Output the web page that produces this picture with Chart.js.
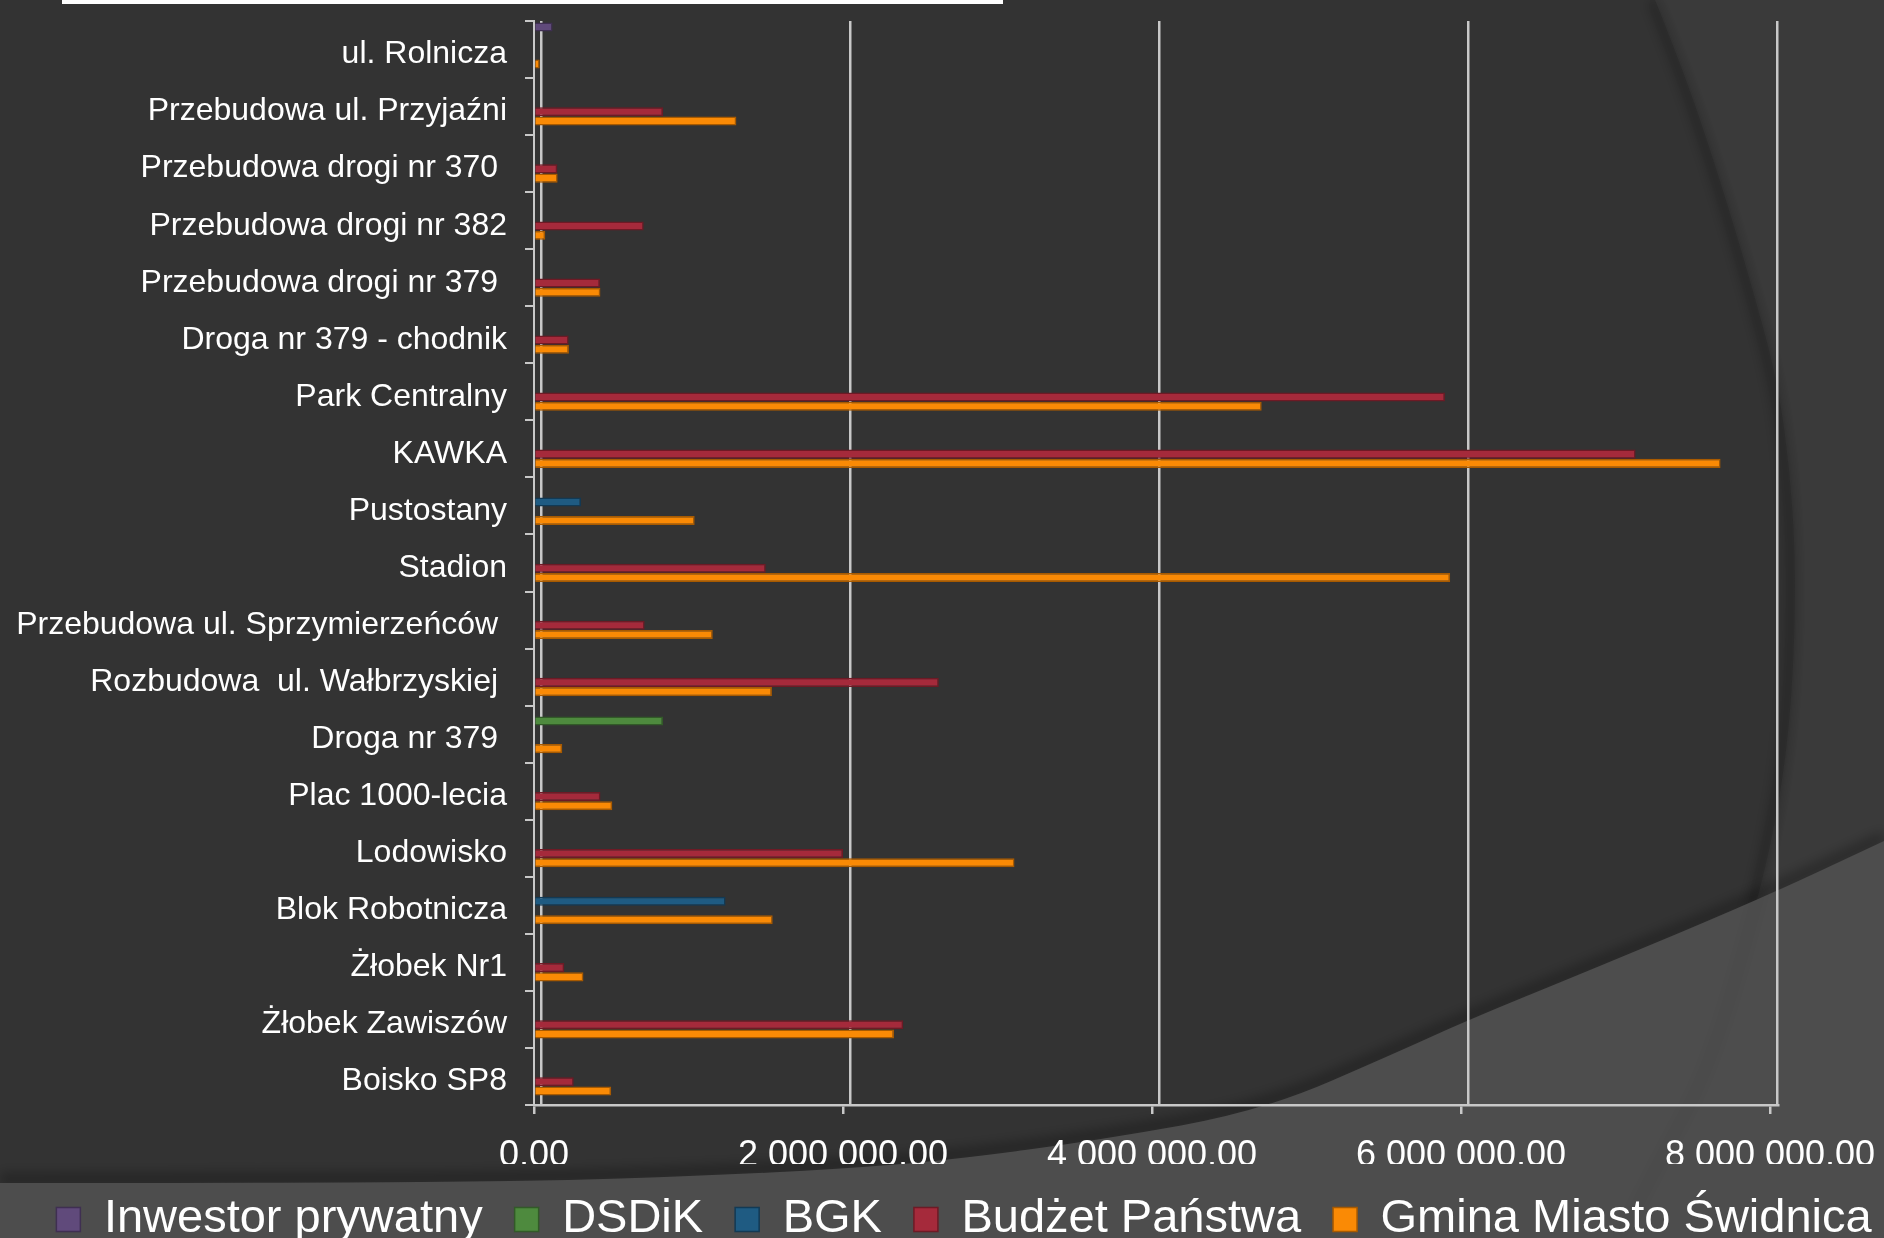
<!DOCTYPE html>
<html>
<head>
<meta charset="utf-8">
<script src="https://cdn.jsdelivr.net/npm/chart.js@4.4.1/dist/chart.umd.min.js"></script>
<style>
html,body{margin:0;padding:0;background:#333333;overflow:hidden;width:1884px;height:1238px;}
#bg{position:absolute;left:0;top:0;}
#wrap{position:absolute;left:0;top:0;width:1884px;height:1253px;}
#topbar{position:absolute;left:62px;top:0;width:941px;height:4px;background:#ffffff;}
</style>
</head>
<body>
<svg id="bg" width="1884" height="1238" viewBox="0 0 1884 1238" xmlns="http://www.w3.org/2000/svg">
  <defs>
    <filter id="soft" x="-10%" y="-10%" width="120%" height="120%"><feGaussianBlur stdDeviation="6"/></filter>
  </defs>
  <rect width="1884" height="1238" fill="#333333"/>
  <path id="rightRegion" fill="#3a3a3a"/>
  <path id="arcShadow" fill="none" stroke="rgba(0,0,0,0.22)" stroke-width="10" filter="url(#soft)"/>
  <path id="swooshShadow" fill="none" stroke="rgba(0,0,0,0.28)" stroke-width="12" filter="url(#soft)"/>
  <path id="swoosh" fill="#4d4d4d"/>
  <path id="arcLow" fill="none" stroke="rgba(0,0,0,0.08)" stroke-width="6" filter="url(#soft)"/>
</svg>
<div id="topbar"></div>
<div id="wrap"><canvas id="c" width="1884" height="1253"></canvas></div>
<script>
// ---- data ----
const categories = [
  'ul. Rolnicza',
  'Przebudowa ul. Przyjaźni',
  'Przebudowa drogi nr 370 ',
  'Przebudowa drogi nr 382',
  'Przebudowa drogi nr 379 ',
  'Droga nr 379 - chodnik',
  'Park Centralny',
  'KAWKA',
  'Pustostany',
  'Stadion',
  'Przebudowa ul. Sprzymierzeńców ',
  'Rozbudowa  ul. Wałbrzyskiej ',
  'Droga nr 379 ',
  'Plac 1000-lecia',
  'Lodowisko',
  'Blok Robotnicza',
  'Żłobek Nr1',
  'Żłobek Zawiszów',
  'Boisko SP8'
];
const seriesNames = ['Inwestor prywatny', 'DSDiK', 'BGK', 'Budżet Państwa', 'Gmina Miasto Świdnica'];
const inwestorPrywatny = [120000,0,0,0,0,0,0,0,0,0,0,0,0,0,0,0,0,0,0];
const dsdik            = [0,0,0,0,0,0,0,0,0,0,0,0,835000,0,0,0,0,0,0];
const bgk              = [0,0,0,0,0,0,0,0,304000,0,0,0,0,0,0,1240000,0,0,0];
const budzetPanstwa    = [0,835000,151000,710000,427000,224000,5896000,7130000,0,1500000,716000,2620000,0,430000,2000000,0,196000,2390000,257000];
const gminaMiasto      = [37000,1310000,153000,73000,430000,226000,4710000,7680000,1040000,5930000,1157000,1540000,183000,507000,3110000,1545000,320000,2330000,500000];
const xTickValues = [0, 2000000, 4000000, 6000000, 8000000];
const xTickLabels = ['0,00', '2 000 000,00', '4 000 000,00', '6 000 000,00', '8 000 000,00'];

// ---- background decoration ----
function smoothPath(pts) {
  let d = 'M' + pts[0][0] + ',' + pts[0][1];
  for (let i = 1; i < pts.length - 1; i++) {
    const mx = (pts[i][0] + pts[i+1][0]) / 2, my = (pts[i][1] + pts[i+1][1]) / 2;
    d += ' Q' + pts[i][0] + ',' + pts[i][1] + ' ' + mx + ',' + my;
  }
  const l = pts[pts.length - 1];
  d += ' L' + l[0] + ',' + l[1];
  return d;
}
const swooshPts = [[0,1183],[300,1183],[540,1181],[700,1176],[840,1169],[950,1160],[1100,1140],[1262,1111],[1400,1051],[1468,1020],[1600,966],[1758,900],[1884,841]];
const arcPts = [[1655,0],[1682,67],[1716,167],[1751,283],[1778,383],[1791,480],[1796,580],[1792,700],[1780,800],[1758,900],[1710,1067],[1660,1160],[1620,1238]];
const sw = smoothPath(swooshPts);
const ar = smoothPath(arcPts);
document.getElementById('swoosh').setAttribute('d', sw + ' L1884,1238 L0,1238 Z');
document.getElementById('swooshShadow').setAttribute('d', sw);
document.getElementById('swooshShadow').setAttribute('transform', 'translate(0,-4)');
document.getElementById('rightRegion').setAttribute('d', ar + ' L1884,1238 L1884,0 Z');
document.getElementById('arcShadow').setAttribute('d', ar);
document.getElementById('arcShadow').setAttribute('transform', 'translate(-4,0)');
document.getElementById('arcLow').setAttribute('d', ar);

// ---- chart ----
Chart.defaults.font.family = "'Liberation Sans', Arial, sans-serif";
const colors = ['#604a7b', '#4e8a3e', '#1f5b82', '#a52a3b', '#fa8a05'];
const borders = ['#3f2f52', '#325a28', '#123a55', '#6e1a25', '#a85a00'];
const values = [inwestorPrywatny, dsdik, bgk, budzetPanstwa, gminaMiasto];

const datasets = seriesNames.map((name, i) => ({
  label: name,
  data: values[i].map((v, j) => ({ x: v, y: j })),
  xAxisID: 'x',
  yAxisID: 'yBars',
  backgroundColor: colors[i],
  borderColor: borders[i],
  borderWidth: 1.5,
  categoryPercentage: 0.81,
  barPercentage: 0.98
}));

// pseudo-3D geometry: front axis (ticks, labels), back wall (grid lines), bars raised slightly
const frontMax = 8051780;
const wallMin = -45307, wallMax = 8006473;
const barShift = 0.07;
const categoryIndexTicks = categories.map((c, i) => ({ value: i }));

const legendShift = {
  id: 'legendShift',
  afterLayout(chart) {
    if (chart.legend) { chart.legend.left += 22; chart.legend.right += 22; }
  }
};

new Chart(document.getElementById('c').getContext('2d'), {
  type: 'bar',
  data: { labels: categories, datasets },
  plugins: [legendShift],
  options: {
    indexAxis: 'y',
    responsive: false,
    animation: false,
    devicePixelRatio: 1,
    layout: { padding: 0 },
    scales: {
      x: {
        type: 'linear',
        min: 0, max: frontMax,
        weight: 1,
        afterBuildTicks: (s) => { s.ticks = xTickValues.map(v => ({ value: v })); },
        ticks: {
          color: '#ffffff',
          font: { size: 36 },
          padding: 20,
          maxRotation: 0,
          callback: (v) => xTickLabels[xTickValues.indexOf(v)]
        },
        grid: { drawOnChartArea: false, color: '#c8c8c8', lineWidth: 2.5, tickLength: 9, drawTicks: true },
        border: { color: '#c8c8c8', width: 2.5 },
        afterFit: (s) => { s.height = 59; s.paddingRight = 106; s.paddingLeft = 0; }
      },
      xWall: {
        type: 'linear',
        axis: 'x',
        position: 'bottom',
        weight: 0,
        min: wallMin, max: wallMax,
        afterBuildTicks: (s) => { s.ticks = xTickValues.map(v => ({ value: v })); },
        ticks: { display: false },
        grid: { color: '#c8c8c8', lineWidth: 2.5, drawTicks: false },
        border: { display: false },
        afterFit: (s) => { s.height = 0; s.paddingRight = 0; s.paddingLeft = 0; }
      },
      y: {
        type: 'category',
        position: 'left',
        offset: true,
        ticks: { color: '#ffffff', font: { size: 32 }, padding: 18, autoSkip: false, labelOffset: 5 },
        grid: { drawOnChartArea: false, color: '#c8c8c8', lineWidth: 2, tickLength: 9, offset: true },
        border: { color: '#c8c8c8', width: 2 },
        afterFit: (s) => { s.width = 534; s.paddingTop = 21; s.paddingBottom = 0; }
      },
      yBars: {
        type: 'linear',
        axis: 'y',
        display: false,
        offset: false,
        reverse: true,
        min: -0.5 + barShift,
        max: categories.length - 0.5 + barShift,
        afterBuildTicks: (s) => { s.ticks = categoryIndexTicks.slice(); }
      }
    },
    plugins: {
      legend: {
        position: 'bottom',
        labels: { color: '#ffffff', font: { size: 47 }, boxWidth: 24, boxHeight: 24, padding: 32 }
      },
      tooltip: { enabled: false }
    }
  }
});
</script>
</body>
</html>
